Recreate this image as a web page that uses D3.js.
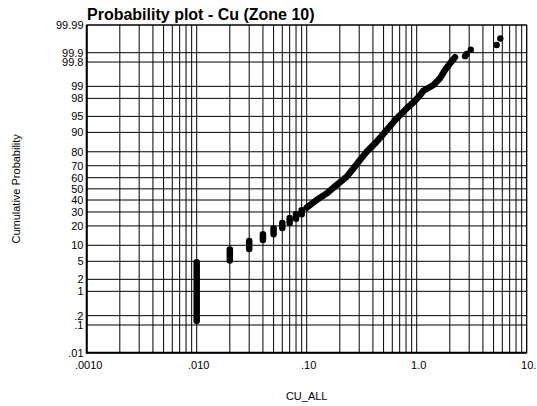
<!DOCTYPE html>
<html>
<head>
<meta charset="utf-8">
<script src="https://cdn.jsdelivr.net/npm/d3@7"></script>
<style>
  body { margin: 0; background: #fff; }
  svg { display: block; font-family: Arial, "Liberation Sans", sans-serif; }
</style>
</head>
<body>
<div id="chart"></div>
<script>
// values
var xTicks = [0.001, 0.01, 0.1, 1, 10];
var xTickLabels = [".0010", ".010", ".10", "1.0", "10."];
var yTicks = [0.01, 0.1, 0.2, 1, 2, 5, 10, 20, 30, 40, 50, 60, 70, 80, 90, 95, 98, 99, 99.8, 99.9, 99.99];
var yTickLabels = [".01", ".1", ".2", "1", "2", "5", "10", "20", "30", "40", "50", "60", "70", "80", "90", "95", "98", "99", "99.8", "99.9", "99.99"];

// tied values (detection-limit style steps): value, lowest and highest cumulative %
var tiedValues = [0.01, 0.02, 0.03, 0.04, 0.05, 0.06, 0.07, 0.08, 0.09];
var tiedLow = [0.135, 5.2, 8.6, 12.3, 15.2, 18.7, 21.9, 24.8, 28.3];
var tiedHigh = [4.8, 8.4, 11.8, 15.2, 18.6, 21.9, 25.4, 28.5, 31.4];

// dense part of the distribution
var curveValues = [0.1, 0.123, 0.152, 0.187, 0.231, 0.266, 0.305, 0.351, 0.433, 0.533, 0.658, 0.811, 0.93, 1.05, 1.15, 1.42, 1.63, 1.81, 2.01, 2.23];
var curvePct = [33.5, 40, 45.9, 53.4, 60.8, 67.9, 74.3, 80, 85.8, 90.9, 94.5, 96.6, 97.5, 98.2, 98.7, 99.08, 99.4, 99.65, 99.78, 99.86];

// isolated high samples
var tailValues = [2.75, 2.85, 3.1, 5.33, 5.76];
var tailPct = [99.87, 99.89, 99.92, 99.945, 99.968];

// inverse normal CDF (Acklam)
function probit(p) {
  var a = [-3.969683028665376e+01, 2.209460984245205e+02, -2.759285104469687e+02, 1.383577518672690e+02, -3.066479806614716e+01, 2.506628277459239e+00];
  var b = [-5.447609879822406e+01, 1.615858368580409e+02, -1.556989798598866e+02, 6.680131188771972e+01, -1.328068155288572e+01];
  var c = [-7.784894002430293e-03, -3.223964580411365e-01, -2.400758277161838e+00, -2.549732539343734e+00, 4.374664141464968e+00, 2.938163982698783e+00];
  var d = [7.784695709041462e-03, 3.224671290700398e-01, 2.445134137142996e+00, 3.754408661907416e+00];
  var pl = 0.02425, q, r;
  if (p < pl) {
    q = Math.sqrt(-2 * Math.log(p));
    return (((((c[0]*q+c[1])*q+c[2])*q+c[3])*q+c[4])*q+c[5]) / ((((d[0]*q+d[1])*q+d[2])*q+d[3])*q+1);
  } else if (p <= 1 - pl) {
    q = p - 0.5; r = q * q;
    return (((((a[0]*r+a[1])*r+a[2])*r+a[3])*r+a[4])*r+a[5])*q / (((((b[0]*r+b[1])*r+b[2])*r+b[3])*r+b[4])*r+1);
  } else {
    q = Math.sqrt(-2 * Math.log(1 - p));
    return -(((((c[0]*q+c[1])*q+c[2])*q+c[3])*q+c[4])*q+c[5]) / ((((d[0]*q+d[1])*q+d[2])*q+d[3])*q+1);
  }
}

var width = 537, height = 406;
var plotLeft = 86.7, plotRight = 526.7, plotTop = 25, plotBottom = 352.7;

var svg = d3.select("#chart").append("svg")
  .attr("width", width)
  .attr("height", height);

var x = d3.scaleLog().domain([0.001, 10]).range([plotLeft, plotRight]);
var z = d3.scaleLinear().domain([probit(0.0001), probit(0.9999)]).range([plotBottom, plotTop]);
var y = function(pct) { return z(probit(pct / 100)); };

// grid: every log minor tick, every probability tick
var minor = [];
for (var dec = -3; dec < 1; dec++) {
  for (var m = 1; m < 10; m++) minor.push(m * Math.pow(10, dec));
}
minor.push(10);

var grid = svg.append("g").attr("class", "grid");
grid.selectAll("line.v").data(minor).enter().append("line")
  .attr("class", "v")
  .attr("x1", function(d) { return x(d); })
  .attr("x2", function(d) { return x(d); })
  .attr("y1", plotTop).attr("y2", plotBottom)
  .attr("stroke", "#000").attr("stroke-width", 1);

grid.selectAll("line.h").data(yTicks).enter().append("line")
  .attr("class", "h")
  .attr("x1", plotLeft).attr("x2", plotRight)
  .attr("y1", function(d) { return y(d); })
  .attr("y2", function(d) { return y(d); })
  .attr("stroke", "#000").attr("stroke-width", 1);

// frame
svg.append("rect")
  .attr("x", plotLeft).attr("y", plotTop)
  .attr("width", plotRight - plotLeft).attr("height", plotBottom - plotTop)
  .attr("fill", "none").attr("stroke", "#000").attr("stroke-width", 1);
svg.append("path")
  .attr("d", "M" + plotLeft + "," + plotTop + "V" + plotBottom + "H" + plotRight)
  .attr("fill", "none").attr("stroke", "#000").attr("stroke-width", 2);

// axis labels
svg.append("g").selectAll("text").data(xTicks).enter().append("text")
  .attr("x", function(d) { return x(d) + 2; })
  .attr("y", 369)
  .attr("text-anchor", "middle")
  .attr("font-size", "11px")
  .text(function(d, i) { return xTickLabels[i]; });

svg.append("g").selectAll("text").data(yTicks).enter().append("text")
  .attr("x", 83.5)
  .attr("y", function(d) { return y(d); })
  .attr("dy", "0.36em")
  .attr("text-anchor", "end")
  .attr("font-size", "11px")
  .text(function(d, i) { return yTickLabels[i]; });

svg.append("text")
  .attr("x", (plotLeft + plotRight) / 2)
  .attr("y", 400)
  .attr("text-anchor", "middle")
  .attr("font-size", "11px")
  .text("CU_ALL");

svg.append("text")
  .attr("transform", "translate(20," + ((plotTop + plotBottom) / 2) + ") rotate(-90)")
  .attr("text-anchor", "middle")
  .attr("font-size", "11px")
  .text("Cumulative Probability");

svg.append("text")
  .attr("x", 87)
  .attr("y", 20)
  .attr("font-size", "16px")
  .attr("font-weight", "bold")
  .text("Probability plot - Cu (Zone 10)");

// data marks
var marks = svg.append("g").attr("class", "marks");

marks.selectAll("line.tie").data(tiedValues).enter().append("line")
  .attr("class", "tie")
  .attr("x1", function(d) { return x(d); })
  .attr("x2", function(d) { return x(d); })
  .attr("y1", function(d, i) { return y(tiedLow[i]); })
  .attr("y2", function(d, i) { return y(tiedHigh[i]); })
  .attr("stroke", "#000").attr("stroke-width", 6.5)
  .attr("stroke-linecap", "round");

var curve = curveValues.map(function(v, i) { return [v, curvePct[i]]; });
marks.append("path")
  .datum(curve)
  .attr("d", d3.line()
    .x(function(d) { return x(d[0]); })
    .y(function(d) { return y(d[1]); }))
  .attr("fill", "none")
  .attr("stroke", "#000").attr("stroke-width", 6.5)
  .attr("stroke-linecap", "round").attr("stroke-linejoin", "round");

marks.selectAll("circle").data(tailValues).enter().append("circle")
  .attr("cx", function(d) { return x(d); })
  .attr("cy", function(d, i) { return y(tailPct[i]); })
  .attr("r", 3.2)
  .attr("fill", "#000");
</script>
</body>
</html>
